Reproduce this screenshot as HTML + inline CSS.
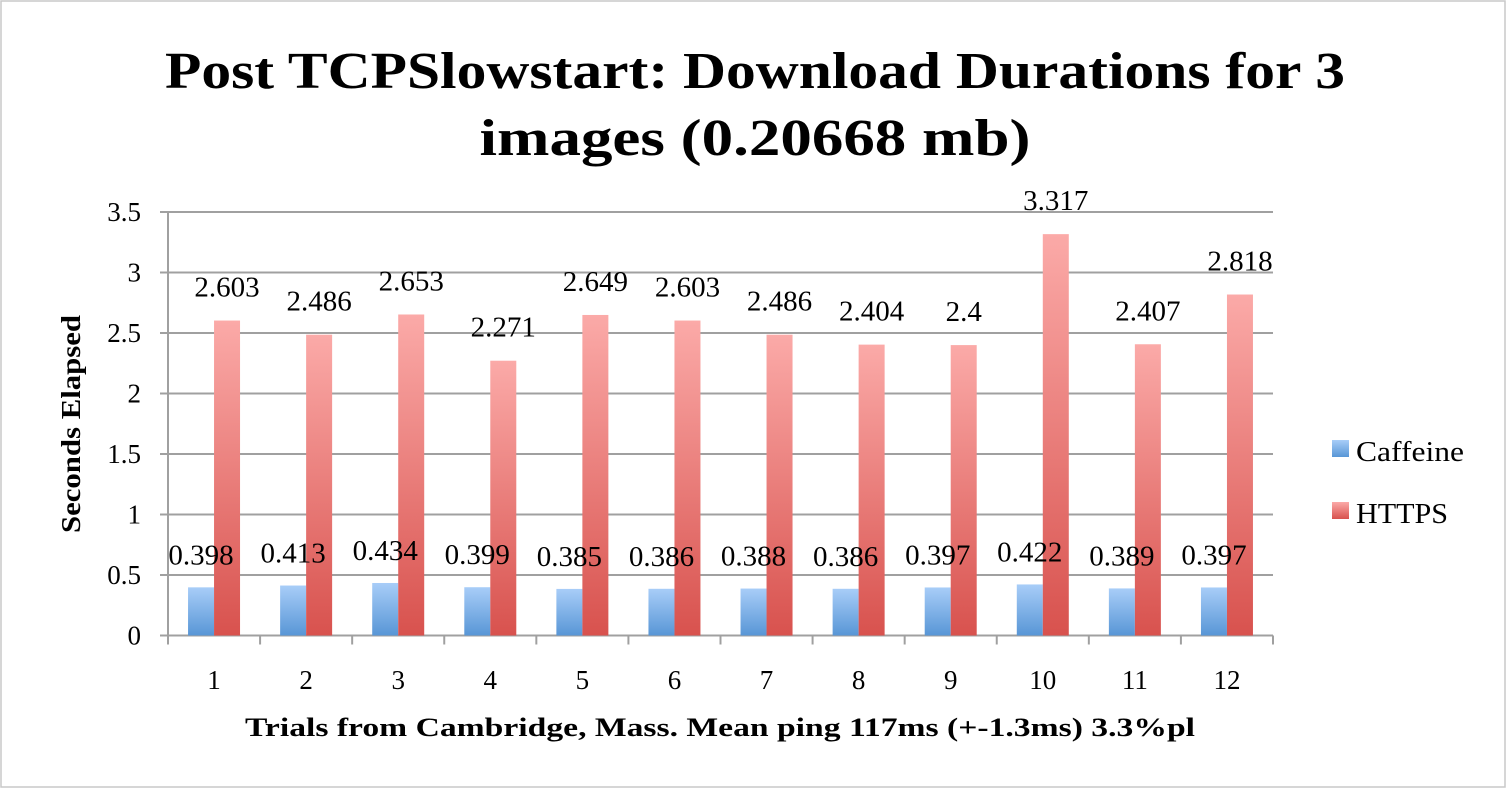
<!DOCTYPE html>
<html><head><meta charset="utf-8"><style>
body{margin:0;background:#fff;width:1508px;height:790px;overflow:hidden;font-family:"Liberation Serif",serif}
</style></head><body>
<svg width="1508" height="790" xmlns="http://www.w3.org/2000/svg">
<defs>
<linearGradient id="gb" x1="0" y1="0" x2="0" y2="1"><stop offset="0" stop-color="#a8cdf8"/><stop offset="1" stop-color="#5896d6"/></linearGradient>
<linearGradient id="gr" x1="0" y1="0" x2="0" y2="1"><stop offset="0" stop-color="#fbaaa8"/><stop offset="1" stop-color="#d8524e"/></linearGradient>
</defs>
<rect x="1" y="1" width="1504" height="786" fill="#fff" stroke="#c8c8c8" stroke-width="1.5"/>
<text x="755" y="88" text-anchor="middle" font-size="52" font-weight="bold" textLength="1180" lengthAdjust="spacingAndGlyphs">Post TCPSlowstart: Download Durations for 3</text>
<text x="755" y="155" text-anchor="middle" font-size="52" font-weight="bold" textLength="551" lengthAdjust="spacingAndGlyphs">images (0.20668 mb)</text>
<g id="grid"></g><g id="bars"></g><g id="labels"></g>
<text transform="translate(80,424) rotate(-90)" text-anchor="middle" font-size="27" font-weight="bold" textLength="218" lengthAdjust="spacingAndGlyphs">Seconds Elapsed</text>
<text x="720" y="736" text-anchor="middle" font-size="26" font-weight="bold" textLength="950" lengthAdjust="spacingAndGlyphs">Trials from Cambridge, Mass. Mean ping 117ms (+-1.3ms) 3.3%pl</text>
<g>
<rect x="1332" y="440" width="17" height="17" fill="url(#gb)"/>
<text x="1356" y="461" font-size="28" textLength="108" lengthAdjust="spacingAndGlyphs">Caffeine</text>
<rect x="1332" y="502" width="17" height="17" fill="url(#gr)"/>
<text x="1356" y="523" font-size="28" textLength="92" lengthAdjust="spacingAndGlyphs">HTTPS</text>
</g>
</svg>
<script>
const categories=["1","2","3","4","5","6","7","8","9","10","11","12"];
const caffeine=[0.398,0.413,0.434,0.399,0.385,0.386,0.388,0.386,0.397,0.422,0.389,0.397];
const https=[2.603,2.486,2.653,2.271,2.649,2.603,2.486,2.404,2.4,3.317,2.407,2.818];
const yTicks=["0","0.5","1","1.5","2","2.5","3","3.5"];
const NS="http://www.w3.org/2000/svg";
const X0=168,X1=1273,Y0=635.5,Ytop=212,YMAX=3.5;
const cw=(X1-X0)/categories.length;
const y=v=>Y0-(v/YMAX)*(Y0-Ytop);
const xc=i=>X0+cw*(i+0.5);
function mk(t,a,p){const e=document.createElementNS(NS,t);for(const k in a)e.setAttribute(k,a[k]);p.appendChild(e);return e;}
const grid=document.getElementById('grid'),bars=document.getElementById('bars'),labels=document.getElementById('labels');
yTicks.forEach(t=>{const v=parseFloat(t),yy=y(v);
const l=mk('line',{x1:X0-8,x2:X1,y1:yy,y2:yy,stroke:'#a0a0a0','stroke-width':2},grid);


const tx=mk('text',{x:141,y:yy+9,'text-anchor':'end','font-size':27},grid);tx.textContent=t;

});
const ax=mk('line',{x1:X0,x2:X0,y1:Ytop,y2:Y0+9,stroke:'#a0a0a0','stroke-width':2},grid);


for(let i=0;i<=categories.length;i++){const xx=X0+cw*i;
const t=mk('line',{x1:xx,x2:xx,y1:Y0,y2:Y0+9,stroke:'#a0a0a0','stroke-width':2},grid);

}
categories.forEach((c,i)=>{const cx=xc(i),bw=26;
const b1=mk('rect',{x:cx-bw,y:y(caffeine[i]),width:bw,height:Y0-y(caffeine[i]),fill:'url(#gb)'},bars);


const b2=mk('rect',{x:cx,y:y(https[i]),width:bw,height:Y0-y(https[i]),fill:'url(#gr)'},bars);


const l1=mk('text',{x:cx-bw/2,y:y(caffeine[i])-23,'text-anchor':'middle','font-size':29},labels);l1.textContent=String(caffeine[i]);


const l2=mk('text',{x:cx+bw/2,y:y(https[i])-24,'text-anchor':'middle','font-size':29},labels);l2.textContent=String(https[i]);


const xl=mk('text',{x:cx,y:689,'text-anchor':'middle','font-size':27},labels);xl.textContent=c;

});
</script>
</body></html>
